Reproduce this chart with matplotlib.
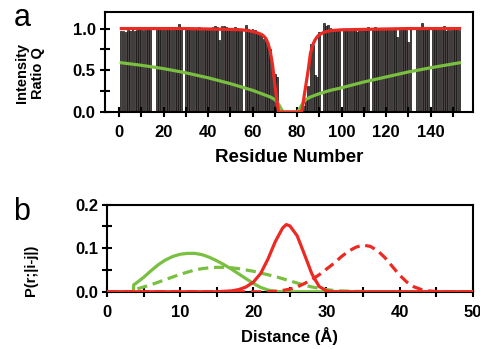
import numpy as np
import matplotlib
matplotlib.use("Agg")
import matplotlib.pyplot as plt
from matplotlib.ticker import MultipleLocator

plt.rcParams['font.family'] = ['Liberation Sans', 'DejaVu Sans']
plt.rcParams['font.weight'] = 'bold'

RED = '#ec2a24'
GREEN = '#79bf40'
nan = np.nan

# panel a: intensity ratio per residue (nan = no data)
residues = np.arange(1, 154)
ratio_q = [
    0.97, 0.97, 0.96, 0.98, 0.97, 0.99, 0.97, 0.98, 0.99, 0.98,
    0.98, 0.99, 1.00, 0.98, nan, nan, 0.99, 1.00, 0.98, 0.99,
    0.99, 1.00, 0.98, 0.99, 1.00, 1.01, 1.05, 0.99, nan, 0.98,
    0.99, 1.00, 0.99, 1.01, 0.99, 1.02, 1.00, 0.99, 1.01, 0.99,
    1.00, 1.02, 1.03, 1.02, 0.86, 1.03, 1.03, 1.02, 1.00, 0.99,
    1.00, 1.02, 1.01, 1.00, 1.00, nan, 1.04, 0.99, 0.98, 0.99,
    0.98, 0.96, 0.93, 0.92, 0.88, 0.84, 0.80, 0.76, 0.50, 0.45,
    0.42, nan, nan, nan, nan, nan, nan, nan, nan, nan,
    nan, nan, 0.07, 0.17, 0.31, 0.82, 0.80, 0.44, 0.42, 0.96,
    nan, 1.07, 1.03, 1.04, 1.01, 1.00, 0.99, 1.00, 0.99, nan,
    0.99, 1.00, 1.00, 0.99, 0.98, 0.99, 0.96, 1.00, 1.01, 1.00,
    1.00, 1.02, nan, 1.01, 1.02, 1.00, 1.01, 1.00, 0.99, 1.00,
    0.99, 1.00, 0.98, 0.99, 0.90, 0.99, 1.00, 1.00, 0.98, 0.84,
    0.99, nan, nan, 0.99, 1.00, 1.07, 1.00, 0.99, 1.00, nan,
    1.00, 1.00, 0.99, 1.01, 0.99, 1.03, 0.97, 0.98, 0.98, 0.99,
    1.00, 0.99, 0.98,
]

red_res = [1, 10, 20, 30, 40, 50, 55, 58, 60, 62, 64, 65, 66, 67, 68, 69, 70,
           71, 71.7, 82, 82.5, 83, 84, 85, 86, 87, 88, 89, 90, 92, 95, 100,
           110, 120, 130, 140, 153]
red_q = [1.0, 1.0, 1.0, 1.0, 0.995, 0.99, 0.985, 0.975, 0.965, 0.95, 0.93,
         0.91, 0.88, 0.82, 0.72, 0.56, 0.33, 0.12, 0.0, 0.0, 0.06, 0.16, 0.33,
         0.50, 0.70, 0.80, 0.86, 0.90, 0.925, 0.955, 0.975, 0.985, 0.99,
         0.995, 1.0, 1.0, 1.0]

green_res = [1, 10, 20, 30, 40, 50, 55, 60, 65, 68, 70, 71, 72, 73, 74, 80,
             81, 82, 83, 84, 86, 90, 95, 100, 110, 120, 130, 140, 153]
green_q = [0.59, 0.56, 0.52, 0.47, 0.41, 0.34, 0.30, 0.26, 0.21, 0.18, 0.15,
           0.12, 0.08, 0.03, 0.0, 0.0, 0.03, 0.08, 0.12, 0.15, 0.18, 0.22,
           0.26, 0.29, 0.36, 0.42, 0.48, 0.53, 0.59]

# panel b: distance distributions
red_r = [0, 15, 16, 17, 18, 19, 20, 21, 22, 23, 24, 24.5, 25, 26, 27, 28, 29,
         30, 31, 50]
red_p = [0, 0, 0.001, 0.002, 0.005, 0.011, 0.022, 0.042, 0.075, 0.115, 0.146,
         0.154, 0.151, 0.128, 0.085, 0.041, 0.012, 0.002, 0, 0]

red_dash_r = [0, 22, 23, 24, 25, 26, 27, 28, 29, 30, 31, 32, 33, 34, 35, 36,
              37, 38, 39, 40, 41, 42, 43, 44, 45, 46, 50]
red_dash_p = [0, 0, 0.001, 0.003, 0.006, 0.011, 0.019, 0.028, 0.039, 0.052,
              0.065, 0.080, 0.093, 0.102, 0.107, 0.104, 0.094, 0.078, 0.058,
              0.038, 0.022, 0.011, 0.005, 0.002, 0.0006, 0, 0]

green_r = [0, 3.6, 3.65, 4, 5, 6, 7, 8, 9, 10, 11, 12, 13, 14, 15, 16, 17, 18,
           19, 20, 21, 22, 23, 24, 50]
green_p = [0, 0, 0.016, 0.02, 0.033, 0.048, 0.062, 0.073, 0.081, 0.086, 0.088,
           0.088, 0.085, 0.079, 0.071, 0.062, 0.052, 0.041, 0.030, 0.019,
           0.010, 0.004, 0.001, 0, 0]

green_dash_r = [0, 3.6, 3.65, 4, 5, 6, 7, 8, 9, 10, 11, 12, 13, 14, 15, 16, 17,
                18, 19, 20, 21, 22, 23, 24, 25, 26, 27, 28, 29, 30, 31, 32, 34,
                36, 50]
green_dash_p = [0, 0, 0.004, 0.006, 0.011, 0.016, 0.022, 0.028, 0.034, 0.040,
                0.045, 0.050, 0.053, 0.055, 0.056, 0.056, 0.055, 0.053, 0.050,
                0.047, 0.043, 0.039, 0.035, 0.030, 0.025, 0.020, 0.015, 0.011,
                0.008, 0.005, 0.003, 0.002, 0.001, 0, 0]

fig = plt.figure(figsize=(4.8, 3.49), dpi=100)
ax1 = fig.add_axes([0.218, 0.679, 0.767, 0.287])
ax2 = fig.add_axes([0.223, 0.164, 0.762, 0.250])

lw = 2.3
dash = (0, (3.2, 1.8))

# --- panel a
ax1.bar(residues, ratio_q, width=0.8, color='#4a4444', edgecolor='#151212',
        linewidth=0.5, zorder=1)
ax1.plot(green_res, green_q, color=GREEN, lw=lw, zorder=3)
ax1.plot(red_res, red_q, color=RED, lw=lw, zorder=4)
ax1.set_xlim(-6.5, 159)
ax1.set_ylim(0, 1.2)
ax1.xaxis.set_major_locator(MultipleLocator(20))
ax1.xaxis.set_minor_locator(MultipleLocator(10))
ax1.yaxis.set_minor_locator(MultipleLocator(0.25))
ax1.set_yticks([0, 0.5, 1.0])
ax1.set_yticklabels(['0.0', '0.5', '1.0'])
ax1.set_xlabel('Residue Number', fontsize=13.5, fontweight='bold', labelpad=6)
# two-line y label, placed line by line
fig.text(0.046, 0.79, 'Intensity', rotation=90, fontsize=10.5,
         fontweight='bold', ha='center', va='center')
fig.text(0.080, 0.79, 'Ratio Q', rotation=90, fontsize=10.5,
         fontweight='bold', ha='center', va='center')

# --- panel b
ax2.plot(green_r, green_p, color=GREEN, lw=lw, zorder=3)
ax2.plot(green_dash_r, green_dash_p, color=GREEN, lw=lw, ls=dash, zorder=3)
ax2.plot(red_r, red_p, color=RED, lw=lw, zorder=4)
ax2.plot(red_dash_r, red_dash_p, color=RED, lw=lw, ls=dash, zorder=4)
ax2.set_xlim(0, 50)
ax2.set_ylim(0, 0.2)
ax2.xaxis.set_major_locator(MultipleLocator(10))
ax2.xaxis.set_minor_locator(MultipleLocator(5))
ax2.yaxis.set_minor_locator(MultipleLocator(0.05))
ax2.set_yticks([0, 0.1, 0.2])
ax2.set_yticklabels(['0.0', '0.1', '0.2'])
ax2.set_xlabel('Distance (Å)', fontsize=12, fontweight='bold', labelpad=5)
ax2.set_ylabel('P(r;|i-j|)', fontsize=10.5, fontweight='bold')
ax2.yaxis.set_label_coords(-0.19, 0.25)

for ax in (ax1, ax2):
    for s in ax.spines.values():
        s.set_linewidth(1.5)
    ax.tick_params(which='both', direction='inout', width=1.5, length=7,
                   labelsize=12, pad=3)
    ax.tick_params(axis='x', which='both', pad=6)
    for t in ax.get_xticklabels() + ax.get_yticklabels():
        t.set_fontweight('bold')

fig.text(0.028, 0.925, 'a', fontsize=22, fontweight='normal')
fig.text(0.028, 0.37, 'b', fontsize=22, fontweight='normal')

fig.savefig('out.png', dpi=100)
